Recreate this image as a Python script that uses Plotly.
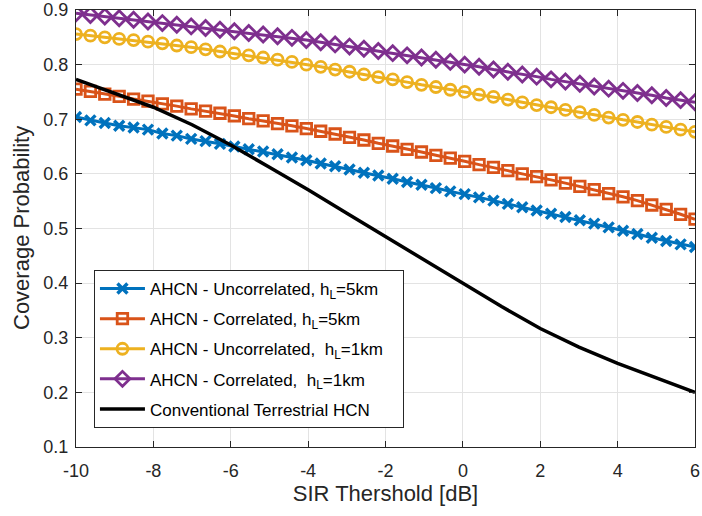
import numpy as np
import plotly.graph_objects as go

# SIR threshold samples (dB) for the marker curves
sir_db = np.linspace(-10, 6, 44)

ahcn_uncorr_5km = [0.704, 0.698, 0.693, 0.688, 0.685, 0.681, 0.674, 0.670, 0.664, 0.660,
                   0.655, 0.650, 0.645, 0.641, 0.636, 0.630, 0.625, 0.619, 0.614, 0.608,
                   0.602, 0.597, 0.591, 0.585, 0.580, 0.574, 0.568, 0.563, 0.557, 0.551,
                   0.545, 0.539, 0.533, 0.527, 0.521, 0.515, 0.509, 0.502, 0.496, 0.490,
                   0.483, 0.477, 0.471, 0.466]

ahcn_corr_5km = [0.755, 0.751, 0.746, 0.742, 0.737, 0.733, 0.728, 0.724, 0.719, 0.715,
                 0.711, 0.706, 0.701, 0.697, 0.692, 0.688, 0.683, 0.678, 0.673, 0.667,
                 0.662, 0.656, 0.651, 0.645, 0.640, 0.634, 0.629, 0.623, 0.617, 0.612,
                 0.606, 0.600, 0.595, 0.589, 0.583, 0.577, 0.571, 0.564, 0.558, 0.551,
                 0.543, 0.535, 0.526, 0.517]

ahcn_uncorr_1km = [0.856, 0.853, 0.850, 0.847, 0.845, 0.842, 0.839, 0.835, 0.832, 0.828,
                   0.824, 0.821, 0.817, 0.813, 0.809, 0.805, 0.800, 0.796, 0.791, 0.787,
                   0.782, 0.777, 0.773, 0.768, 0.763, 0.759, 0.754, 0.750, 0.745, 0.741,
                   0.736, 0.731, 0.726, 0.722, 0.717, 0.713, 0.708, 0.703, 0.699, 0.695,
                   0.690, 0.686, 0.681, 0.677]

ahcn_corr_1km = [0.894, 0.891, 0.888, 0.885, 0.882, 0.879, 0.876, 0.873, 0.870, 0.867,
                 0.864, 0.861, 0.858, 0.855, 0.852, 0.849, 0.845, 0.841, 0.837, 0.833,
                 0.829, 0.825, 0.821, 0.817, 0.813, 0.809, 0.805, 0.800, 0.796, 0.791,
                 0.787, 0.782, 0.778, 0.773, 0.769, 0.765, 0.760, 0.756, 0.752, 0.748,
                 0.744, 0.739, 0.735, 0.731]

# Conventional terrestrial HCN, 1 dB steps
hcn_sir_db = list(range(-10, 7))
hcn_terrestrial = [0.773, 0.748, 0.722, 0.690, 0.653, 0.612, 0.571, 0.528, 0.485,
                   0.443, 0.400, 0.357, 0.317, 0.283, 0.253, 0.226, 0.200]

x_ticks = [-10, -8, -6, -4, -2, 0, 2, 4, 6]
y_ticks = [0.1, 0.2, 0.3, 0.4, 0.5, 0.6, 0.7, 0.8, 0.9]

FONT = "Liberation Sans, Arial, sans-serif"
AX_COLOR = "#262626"
NB = "\u00a0"

series = [
    ("AHCN - Uncorrelated, h<sub>L</sub>=5km" + NB * 4, ahcn_uncorr_5km, "#0072BD", "x-thin", 10, 3.4),
    ("AHCN - Correlated, h<sub>L</sub>=5km", ahcn_corr_5km, "#D95319", "square-open", 10.5, 2.8),
    ("AHCN - Uncorrelated,  h<sub>L</sub>=1km", ahcn_uncorr_1km, "#EDB120", "circle-open", 11, 2.8),
    ("AHCN - Correlated,  h<sub>L</sub>=1km", ahcn_corr_1km, "#7E2F8E", "diamond-open", 11.5, 2.8),
]

fig = go.Figure()
for i, (name, vals, color, sym, size, mlw) in enumerate(series):
    fig.add_trace(go.Scatter(
        x=sir_db, y=vals, name=name, mode="lines+markers",
        legendgroup=f"g{i}",
        line=dict(color=color, width=3),
        marker=dict(symbol=sym, size=size, color=color,
                    line=dict(color=color, width=mlw)),
    ))

fig.add_trace(go.Scatter(
    x=hcn_sir_db, y=hcn_terrestrial, name="Conventional Terrestrial HCN",
    mode="lines", legendgroup="g4",
    line=dict(color="black", width=3.5),
))

axis_common = dict(
    showline=True, linecolor=AX_COLOR, linewidth=1, mirror="ticks",
    ticks="inside", ticklen=6, tickcolor=AX_COLOR, tickwidth=1,
    showgrid=True, gridcolor="#e3e3e3", gridwidth=1, zeroline=False,
    tickfont=dict(family=FONT, size=18, color=AX_COLOR),
    ticklabeloverflow="allow", automargin=False,
)

fig.update_xaxes(
    range=[-10, 6], tickvals=x_ticks, ticktext=[str(v) for v in x_ticks],
    title=dict(text="SIR Thershold [dB]", font=dict(family=FONT, size=22, color=AX_COLOR),
               standoff=4),
    ticklabelstandoff=7,
    **axis_common,
)
fig.update_yaxes(
    range=[0.1, 0.9], tickvals=y_ticks, ticktext=[f"{v:.1f}" for v in y_ticks],
    ticklabelstandoff=3,
    **axis_common,
)

L_MARGIN, R_MARGIN = 76, 7
plot_w = 702 - L_MARGIN - R_MARGIN

# y-axis title placed as a rotated paper annotation to sit close to the figure edge
fig.add_annotation(
    text="Coverage Probability", textangle=-90,
    xref="paper", yref="paper", x=(21.5 - L_MARGIN) / plot_w, y=0.5,
    xanchor="center", yanchor="middle", showarrow=False,
    font=dict(family=FONT, size=22, color=AX_COLOR),
)

fig.update_layout(
    width=702, height=516,
    margin=dict(l=L_MARGIN, r=R_MARGIN, t=10, b=69),
    paper_bgcolor="white", plot_bgcolor="white",
    font=dict(family=FONT, color=AX_COLOR),
    legend=dict(
        x=0.029, y=0.405, xanchor="left", yanchor="top",
        bgcolor="white", bordercolor=AX_COLOR, borderwidth=1,
        font=dict(family=FONT, size=17, color="black"),
        tracegroupgap=5, traceorder="grouped", itemwidth=45,
    ),
    showlegend=True,
)

fig.write_html("out.html")
